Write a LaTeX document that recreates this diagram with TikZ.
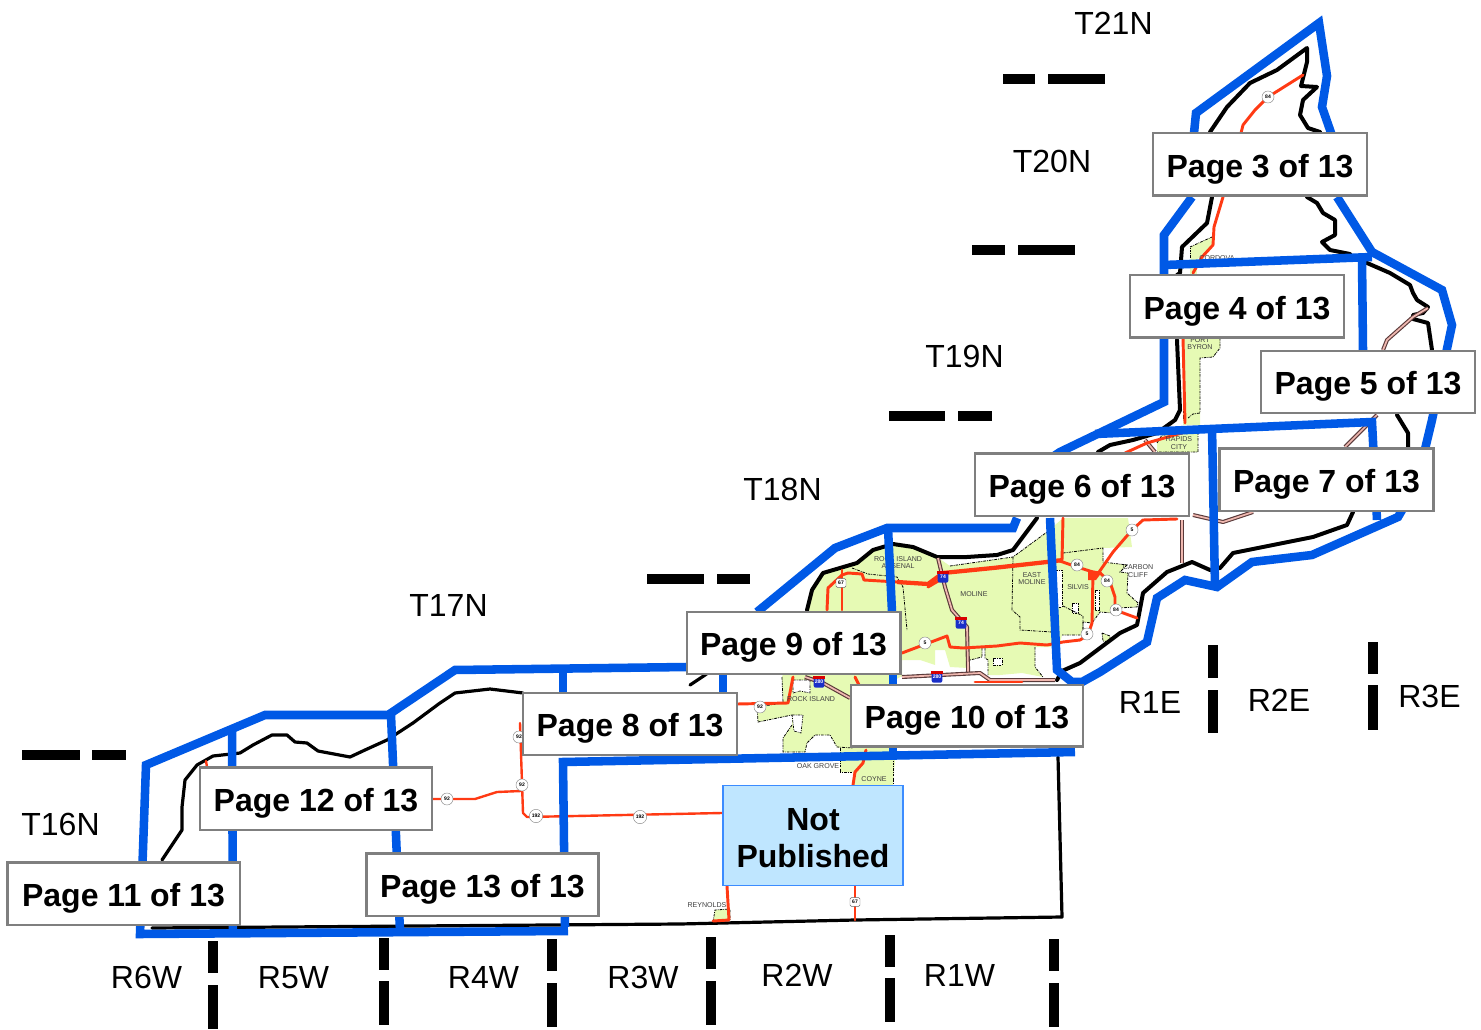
\documentclass[tikz,border=0pt]{standalone}
\usepackage{fontspec}
\setmainfont{Liberation Sans}
\definecolor{mapblue}{HTML}{0059E6}
\definecolor{mapred}{HTML}{FF3A14}
\definecolor{mapgreen}{HTML}{E6FAB4}
\definecolor{boxgray}{HTML}{7F7F7F}
\definecolor{npfill}{HTML}{BFE6FF}
\definecolor{npline}{HTML}{3C8CFF}
\definecolor{roadpink}{HTML}{F0B8B0}
\definecolor{roadedge}{HTML}{5A3A3A}
\definecolor{ishblue}{HTML}{1A2FC8}
\newcommand{\ishield}[3]{%
  \node[ishstyle] (#1) at (#2) {#3};
  \fill[red!85!black] ([yshift=0.2pt]#1.north west) rectangle ([yshift=-2pt]#1.north east);
}
\tikzset{
  pagebox/.style={draw=boxgray,line width=2pt,fill=white,font=\fontsize{24}{28}\selectfont\bfseries,inner sep=0pt,align=center,text height=23.8pt,text depth=5pt},
  gridlabel/.style={font=\fontsize{24}{28}\selectfont,inner sep=0pt},
  citylabel/.style={font=\fontsize{5.3}{6}\selectfont,text=black!75,inner sep=0pt,align=center},
  shield/.style={circle,draw=black!45,line width=0.35pt,fill=white,inner sep=0pt,minimum size=9pt,font=\fontsize{3.8}{4}\selectfont\bfseries},
  ishstyle/.style={rounded corners=1.5pt,fill=ishblue,text=white,inner sep=0pt,minimum width=8pt,minimum height=8.5pt,font=\fontsize{3.8}{4}\selectfont\bfseries},
  sheet/.style={draw=mapblue,line width=6.4pt,miter limit=6},
  river/.style={draw=black,line width=3pt,line join=round,line cap=round},
  riverthin/.style={draw=black,line width=2.4pt,line join=round,line cap=round},
  road/.style={draw=mapred,line width=2.2pt,line join=round,line cap=round},
  roadthin/.style={draw=mapred,line width=1.8pt,line join=round,line cap=round},
  roadwide/.style={draw=mapred,line width=3.2pt,line join=round},
  limit/.style={draw=black,line width=0.6pt,dash pattern=on 2pt off 0.8pt on 0.6pt off 0.8pt},
  gridtick/.style={draw=black,line width=6.8pt},
  green/.style={fill=mapgreen},
  hole/.style={fill=white,draw=black,line width=0.5pt,dash pattern=on 2pt off 0.8pt on 0.6pt off 0.8pt},
  shieldbox/.style={draw=black!60,fill=white,rounded corners=1pt,line width=0.35pt,inner sep=0pt,minimum width=7.5pt,minimum height=6.5pt,font=\fontsize{3.8}{4}\selectfont\bfseries},
}
\newcommand{\hwy}[1]{%
  \draw[roadedge,line width=3pt,line join=round] #1;
  \draw[roadpink,line width=1.3pt,line join=round] #1;
}
\begin{document}
\begin{tikzpicture}[x=0.75pt,y=-0.75pt]
\useasboundingbox (0,0) rectangle (1481,1030);
% green municipal areas
\path[green] (807,612)--(812,590)--(823,573)--(857,563)--(873,550)--(893,544)--(913,547)--(937,557)--(950,566)--(1013,557)--(1047,532)--(1063,518)--(1128,518)--(1132,547)--(1103,548)--(1103,562)--(1127,565)--(1120,572)--(1128,573)--(1127,593)--(1138,603)--(1137,607)--(1118,608)--(1113,613)--(1100,612)--(1092,623)--(1083,622)--(1083,635)--(1062,635)--(1060,643)--(1050,647)--(1035,647)--(1035,667)--(1043,677)--(1022,673)--(1000,675)--(988,675)--(988,660)--(985,658)--(985,648)--(982,648)--(982,657)--(970,660)--(968,668)--(950,667)--(945,650)--(935,650)--(935,665)--(920,660)--(902,660)--(902,676)--(895,680)--(895,760)--(893,785)--(853,785)--(853,772)--(840,772)--(840,748)--(837,747)--(830,735)--(815,735)--(807,743)--(805,752)--(783,752)--(783,738)--(792,725)--(792,715)--(758,722)--(757,707)--(783,703)--(782,677)--cycle;
\path[green] (1102,633)--(1110,636)--(1110,642)--(1103,641)--cycle;
\path[green] (1157,443)--(1162,435)--(1198,433)--(1198,452)--(1157,452)--cycle;
\path[green] (1183,338)--(1220,338)--(1220,348)--(1213,357)--(1200,358)--(1200,425)--(1183,425)--cycle;
\path[green] (1190,247)--(1212,237)--(1213,245)--(1200,257)--(1193,263)--(1190,258)--cycle;
\path[green] (1190,268)--(1197,268)--(1197,276)--(1190,276)--cycle;
\path[green] (713,922)--(715,910)--(730,909)--(730,920)--cycle;
% holes and limits
\path[hole] (793,680)--(810,680)--(810,693)--(800,691)--(793,693)--cycle;
\path[hole] (792,715)--(803,715)--(801,733)--(794,731)--cycle;
\path[hole] (1072,603)--(1078,603)--(1078,613)--(1072,613)--cycle;
\path[hole] (1095,590)--(1099,590)--(1099,610)--(1095,610)--cycle;
\path[hole] (993,658)--(1002,658)--(1002,665)--(993,665)--cycle;
\path[hole] (1055,570)--(1062,570)--(1062,607)--(1055,607)--cycle;
\draw[limit] (852,568)--(868,574)--(897,577)--(903,587)--(907,630);
\draw[limit] (950,566)--(1013,557)--(1047,532);
\draw[limit] (1013,557)--(1012,610)--(1020,617)--(1020,630)--(1052,632);
\draw[limit] (1063,553)--(1103,548)--(1103,562)--(1127,565)--(1120,572)--(1128,573)--(1127,593)--(1138,603)--(1137,607)--(1118,608)--(1113,613)--(1100,612)--(1092,623)--(1083,622)--(1083,635)--(1062,635);
\draw[limit] (1063,606)--(1083,616)--(1083,630);
\draw[limit] (1035,647)--(1035,667)--(1043,677);
\draw[limit] (982,648)--(982,657)--(970,660);
\draw[limit] (985,648)--(985,658)--(988,660)--(988,675);
\draw[limit] (782,677)--(783,703)--(757,707)--(758,722)--(792,715);
\draw[limit] (792,725)--(783,738)--(783,752)--(805,752)--(807,743)--(815,735)--(830,735)--(837,747)--(853,748);
\draw[limit] (840,748)--(840,772)--(853,772);
\draw[limit] (893,757)--(893,785);
\draw[limit] (1157,443)--(1162,435)--(1198,433)--(1198,452)--(1157,452);
\draw[limit] (1183,338)--(1183,420);
\draw[limit] (1220,338)--(1220,348)--(1213,357)--(1200,358)--(1200,413)--(1193,414)--(1188,418);
\draw[limit] (1190,247)--(1212,237);
\draw[limit] (1190,258)--(1190,247);
\draw[limit] (713,922)--(715,910)--(730,909)--(730,920);
\draw[limit] (1102,633)--(1110,636)--(1110,642)--(1103,641)--cycle;
% county outline and river
\draw[riverthin] (162,860)--(182,830)--(182,807)--(185,780)--(197,765)--(213,756)--(240,753)--(253,745)--(272,735)--(287,735)--(295,742)--(307,743)--(318,751)--(350,757)--(365,750)--(387,740)--(413,723)--(440,703)--(455,693)--(490,689)--(523,693);
\draw[riverthin] (690,685)--(705,675)--(715,668);
\draw[river] (807,610)--(812,590)--(823,573)--(857,563)--(873,550)--(893,544)--(913,547)--(937,557)--(967,557)--(997,555)--(1013,550)--(1037,518);
\draw[river] (1098,452)--(1110,445)--(1133,440)--(1157,433)--(1175,420)--(1180,410)--(1177,340);
\draw[river] (1177,275)--(1180,273)--(1182,247)--(1207,223)--(1212,197);
\draw[river] (1210,132)--(1227,107)--(1250,83)--(1277,70)--(1307,48)--(1307,62)--(1303,78)--(1301,86)--(1317,87)--(1303,100)--(1300,115)--(1308,128)--(1320,132);
\draw[river] (1307,197)--(1317,203)--(1323,213)--(1335,220)--(1335,235)--(1322,242)--(1330,250)--(1350,254);
\draw[river] (1367,263)--(1390,273)--(1410,285)--(1413,293)--(1417,300)--(1428,307)--(1423,313)--(1413,315)--(1413,319)--(1428,323)--(1432,350);
\draw[river] (1397,415)--(1408,433)--(1408,447);
\draw[river] (1353,512)--(1347,525)--(1313,537)--(1283,543)--(1233,553)--(1220,568)--(1210,570)--(1192,562)--(1167,572)--(1143,593)--(1137,625)--(1120,633)--(1100,648)--(1080,663)--(1062,671)--(1057,680);
\draw[riverthin] (152,928)--(680,924)--(855,920)--(1062,917)--(1058,757);
% highways with centre lines
\hwy{(1428,308)--(1413,317)--(1387,340)--(1383,350)}
\hwy{(1377,415)--(1345,447)}
\hwy{(1253,512)--(1223,522)--(1193,515)}
\hwy{(1182,520)--(1182,563)}
\hwy{(1145,440)--(1155,452)}
\hwy{(938,558)--(945,587)--(952,610)--(967,627)--(968,667)--(968,674)}
\hwy{(902,677)--(980,673)--(990,680)--(1055,680)}
\hwy{(805,677)--(823,683)--(850,698)}
% roads
\draw[road] (1303,75)--(1268,97)--(1255,110)--(1243,125)--(1241,133);
\draw[road] (1223,197)--(1214,227)--(1213,245)--(1202,257)--(1193,273);
\draw[road] (1183,338)--(1185,423);
\draw[road] (1185,432)--(1147,443)--(1125,453);
\draw[roadwide] (897,582)--(928,584)--(943,573)--(993,568)--(1047,562)--(1063,560);
\draw[road] (928,587)--(945,577);
\draw[road] (1057,560)--(1077,567)--(1093,572)--(1100,573)--(1110,582)--(1115,597)--(1115,610)--(1137,618);
\draw[road] (897,582)--(864,580)--(862,574)--(848,573)--(842,575)--(828,588)--(827,610);
\draw[road] (842,570)--(842,610);
\draw[road] (902,653)--(947,636)--(950,647)--(963,648)--(997,646)--(1020,643)--(1047,645)--(1063,642)--(1080,640)--(1088,635)--(1092,623)--(1093,573);
\draw[road] (1097,575)--(1113,552)--(1132,530)--(1143,520)--(1177,519);
\draw[road] (1063,518)--(1062,560);
\fill[mapred] (1088,570)--(1102,572)--(1096,580)--(1088,580)--cycle;
\draw[road] (737,704)--(788,703)--(793,677);
\draw[road] (855,677)--(859,685);
\draw[road] (975,682)--(1022,682);
\draw[road] (866,750)--(863,763)--(855,772)--(853,785);
\draw[roadthin] (433,799)--(475,799)--(497,792)--(521,791);
\draw[roadthin] (520,723)--(523,813)--(527,817)--(722,813);
\draw[roadthin] (206,761)--(207,767);
\draw[road] (727,886)--(729,920)--(713,921);
\draw[roadthin] (855,886)--(855,920);
% shields
\node[shield] (s1) at (1268,97) {84};
\node[shield] (s2) at (447,799) {92};
\node[shield] (s3) at (522,785) {92};
\node[shield] (s4) at (519,737) {92};
\node[shield,minimum size=10pt] (s5) at (536,816) {192};
\node[shield,minimum size=10pt] (s6) at (640,817) {192};
\node[shieldbox] (s7) at (855,902) {67};
\node[shieldbox] (s8) at (841,583) {67};
\node[shield] (s9) at (925,643) {5};
\node[shield] (s10) at (1077,565) {84};
\node[shield] (s11) at (1132,530) {5};
\node[shield] (s12) at (1107,581) {84};
\node[shield] (s13) at (1116,610) {84};
\node[shield] (s14) at (1087,634) {5};
\node[shield] (s15) at (760,707) {92};
\ishield{i1}{819,682}{280}
\ishield{i2}{937,677}{280}
\ishield{i3}{943,577}{74}
\ishield{i4}{961,623}{74}
% city names
\node[citylabel] (c1) at (898,562.5) {ROCK ISLAND\\[-0.6pt]ARSENAL};
\node[citylabel] (c2) at (974,594) {MOLINE};
\node[citylabel] (c3) at (1032,578.5) {EAST\\[-0.6pt]MOLINE};
\node[citylabel] (c4) at (1078,587) {SILVIS};
\node[citylabel] (c5) at (1138,571) {CARBON\\[-0.6pt]CLIFF};
\node[citylabel] (c6) at (811,699) {ROCK ISLAND};
\node[citylabel] (c7) at (818,766) {OAK GROVE};
\node[citylabel] (c8) at (874,779) {COYNE};
\node[citylabel] (c9) at (1217,258) {CORDOVA};
\node[citylabel] (c10) at (1200,343.5) {PORT\\[-0.6pt]BYRON};
\node[citylabel] (c11) at (1179,443) {RAPIDS\\[-0.6pt]CITY};
\node[citylabel] (c12) at (707,905) {REYNOLDS};
% sheet boundaries
\draw[sheet,miter limit=10] (1192,197)--(1164,235)--(1164,402)--(1060,452)--(1054,456);
\draw[sheet] (1194,133)--(1196,113)--(1319,23)--(1327,76)--(1322,107)--(1337,150);
\draw[sheet] (1337,197)--(1372,252)--(1442,290)--(1452,325)--(1432,420)--(1420,470);
\draw[sheet] (1405,505)--(1398,517)--(1312,555)--(1252,562)--(1217,587)--(1185,580)--(1157,598)--(1147,642)--(1100,672)--(1082,682)--(1072,682)--(1057,670)--(1050,518);
\draw[sheet] (1164,265)--(1372,257);
\draw[sheet] (1362,260)--(1363,350);
\draw[sheet] (1095,434)--(1372,422)--(1377,520);
\draw[sheet] (1212,428)--(1215,587);
\draw[sheet] (1017,518)--(1013,528)--(887,528)--(835,548)--(757,612);
\draw[sheet] (888,528)--(892,612);
\draw[sheet] (893,674)--(893,757);
\draw[sheet] (565,927)--(563,762)--(1075,752);
\draw[sheet] (687,667)--(455,670)--(388,715)--(265,715)--(146,765)--(140,934)--(568,931);
\draw[sheet] (232,728)--(233,934);
\draw[sheet] (391,715)--(400,932);
\draw[sheet] (563,670)--(563,695);
\draw[sheet] (723,672)--(723,695);
% township and range ticks
\draw[gridtick] (1003,79)--(1035,79) (1048,79)--(1105,79);
\draw[gridtick] (972,250)--(1005,250) (1018,250)--(1075,250);
\draw[gridtick] (889,416)--(945,416) (958,416)--(992,416);
\draw[gridtick] (647,579)--(704,579) (717,579)--(750,579);
\draw[gridtick] (22,755)--(80,755) (92,755)--(126,755);
\draw[gridtick] (1213,645)--(1213,678) (1213,690)--(1213,733);
\draw[gridtick] (1373,642)--(1373,674) (1373,685)--(1373,730);
\draw[gridtick] (1054,939)--(1054,971) (1054,983)--(1054,1027);
\draw[gridtick] (890,935)--(890,967) (890,978)--(890,1022);
\draw[gridtick] (711,937)--(711,969) (711,981)--(711,1025);
\draw[gridtick] (552,939)--(552,971) (552,983)--(552,1027);
\draw[gridtick] (384,938)--(384,970) (384,981)--(384,1025);
\draw[gridtick] (213,941)--(213,973) (213,985)--(213,1029);
% page boxes
\node[pagebox,minimum width=160.5pt,minimum height=47pt] (p3) at (1260,164.5) {Page 3 of 13};
\node[pagebox,minimum width=160.5pt,minimum height=47pt] (p4) at (1237,306.5) {Page 4 of 13};
\node[pagebox,minimum width=160.5pt,minimum height=46.5pt] (p5) at (1368,382) {Page 5 of 13};
\node[pagebox,minimum width=160.5pt,minimum height=47pt] (p6) at (1082,484.5) {Page 6 of 13};
\node[pagebox,minimum width=160.5pt,minimum height=47pt] (p7) at (1326.5,479.5) {Page 7 of 13};
\node[pagebox,minimum width=160pt,minimum height=46.5pt] (p9) at (793.5,643) {Page 9 of 13};
\node[pagebox,minimum width=160.5pt,minimum height=46.5pt] (p8) at (630,724) {Page 8 of 13};
\node[pagebox,minimum width=174pt,minimum height=46pt] (p10) at (967,715.5) {Page 10 of 13};
\node[pagebox,minimum width=174pt,minimum height=47pt] (p12) at (316,798.5) {Page 12 of 13};
\node[pagebox,minimum width=174.5pt,minimum height=47pt] (p11) at (123.5,893.5) {Page 11 of 13};
\node[pagebox,minimum width=174pt,minimum height=47pt] (p13) at (482.5,884.5) {Page 13 of 13};
\node[draw=npline,line width=0.9pt,fill=npfill,minimum width=135pt,minimum height=74.5pt,inner sep=0pt,align=center,font=\fontsize{24}{27.7}\selectfont\bfseries] (np) at (813,835.5) {\rule{0pt}{20.5pt}Not\\Published};
% township and range labels
\node[gridlabel] (t21) at (1113.5,23.5) {T21N};
\node[gridlabel] (t20) at (1052,161.5) {T20N};
\node[gridlabel] (t19) at (964.5,356.5) {T19N};
\node[gridlabel] (t18) at (782.5,489.5) {T18N};
\node[gridlabel] (t17) at (448.5,605.5) {T17N};
\node[gridlabel] (t16) at (60.5,824.5) {T16N};
\node[gridlabel] (r6w) at (146.5,977.5) {R6W};
\node[gridlabel] (r5w) at (293.5,977.5) {R5W};
\node[gridlabel] (r4w) at (483.5,977.5) {R4W};
\node[gridlabel] (r3w) at (643,977.5) {R3W};
\node[gridlabel] (r2w) at (797,975.5) {R2W};
\node[gridlabel] (r1w) at (959.5,975.5) {R1W};
\node[gridlabel] (r1e) at (1150,702.5) {R1E};
\node[gridlabel] (r2e) at (1279,700.5) {R2E};
\node[gridlabel] (r3e) at (1429.5,696.5) {R3E};
\end{tikzpicture}
\end{document}
